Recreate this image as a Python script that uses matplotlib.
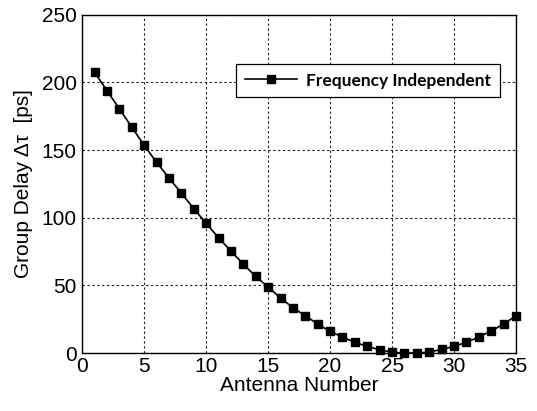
import matplotlib
matplotlib.use("Agg")
import matplotlib.pyplot as plt

# Group delay per antenna element
antenna = list(range(1, 36))
delay_ps = [207.5, 194.0, 180.5, 167.0, 153.6, 141.0, 129.4, 118.3, 106.7, 96.0,
            85.1, 75.5, 65.6, 56.7, 48.8, 40.7, 33.5, 27.6, 21.4, 16.0,
            11.8, 7.9, 4.9, 2.4, 0.6, 0.0, 0.0, 0.7, 2.7, 4.9,
            8.0, 11.8, 16.3, 21.5, 27.5]

x_ticks = [0, 5, 10, 15, 20, 25, 30, 35]
y_ticks = [0, 50, 100, 150, 200, 250]

plt.rcParams['font.family'] = ['Liberation Sans', 'DejaVu Sans']

fig = plt.figure(figsize=(5.37, 4.11), dpi=100)
ax = fig.add_axes([0.153, 0.141, 0.808, 0.823])

ax.plot(antenna, delay_ps, color='black', linewidth=1.2, marker='s',
        markersize=6.2, markerfacecolor='black', markeredgecolor='black',
        label='Frequency Independent', clip_on=False, zorder=3)

ax.set_xlim(0, 35)
ax.set_ylim(0, 250)
ax.set_xticks(x_ticks)
ax.set_yticks(y_ticks)
ax.tick_params(axis='both', which='both', length=0, labelsize=15, pad=4)
ax.tick_params(axis='x', pad=3)

ax.grid(True, color='black', linestyle=(0, (2.2, 2.2)), linewidth=0.8, alpha=0.85)
for s in ax.spines.values():
    s.set_linewidth(1.0)
    s.set_color('black')

ax.set_xlabel('Antenna Number', fontsize=15, labelpad=0)
ax.set_ylabel('Group Delay Δτ  [ps]', fontsize=15, labelpad=6)

leg = ax.legend(loc='upper right', bbox_to_anchor=(0.962, 0.855), frameon=True,
                fancybox=False, edgecolor='black', framealpha=1,
                prop={'family': 'Lato', 'weight': 'bold', 'size': 12.5},
                handlelength=3.0, borderpad=0.5, handletextpad=0.5,
                borderaxespad=0.0)
leg.get_frame().set_linewidth(0.9)

fig.savefig('out.png', dpi=100)
